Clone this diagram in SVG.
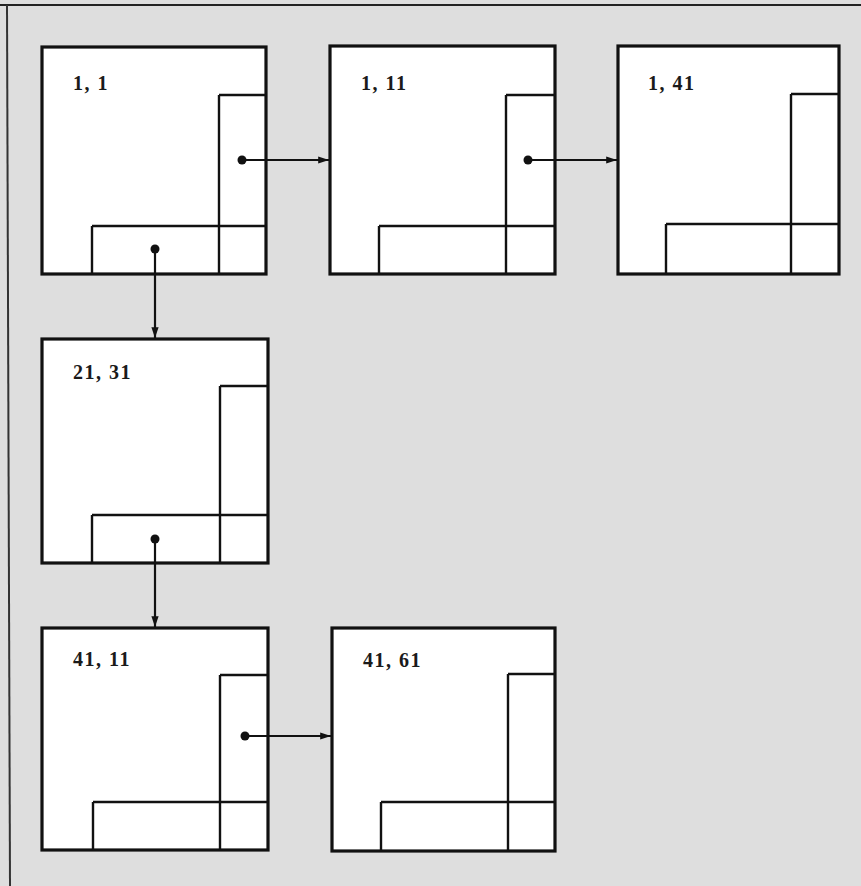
<svg xmlns="http://www.w3.org/2000/svg" width="861" height="886" viewBox="0 0 861 886">
<style>
.frame{fill:#fff;stroke:#111;stroke-width:3.2}
.inner{fill:none;stroke:#111;stroke-width:2.4}
.conn{stroke:#111;stroke-width:2.2;fill:none}
.dot{fill:#111}
.lbl{font-family:"Liberation Serif",serif;font-weight:bold;font-size:20px;fill:#1a1a1a;letter-spacing:1.5px}
</style>
<defs>
<marker id="ah" viewBox="0 0 12 10" refX="12" refY="5" markerWidth="12" markerHeight="9" markerUnits="userSpaceOnUse" orient="auto">
<path d="M0,1 L12,5 L0,9 z" fill="#111"/>
</marker>
</defs>
<rect x="0" y="0" width="861" height="886" fill="#dedede"/>
<line x1="0" y1="5" x2="861" y2="5" stroke="#222" stroke-width="2"/>
<line x1="7" y1="5" x2="10" y2="886" stroke="#333" stroke-width="2"/>

<g id="n1">
<rect class="frame" x="42" y="47" width="224" height="227"/>
<path class="inner" d="M219,95 H266 M219,95 V274 M92,226 H266 M92,226 V274"/>
<text class="lbl" x="73" y="90">1, 1</text>
</g>
<g id="n2">
<rect class="frame" x="330" y="46" width="225" height="228"/>
<path class="inner" d="M506,95 H555 M506,95 V274 M379,226 H555 M379,226 V274"/>
<text class="lbl" x="361" y="90">1, 11</text>
</g>
<g id="n3">
<rect class="frame" x="618" y="46" width="221" height="228"/>
<path class="inner" d="M791,94 H839 M791,94 V274 M666,224 H839 M666,224 V274"/>
<text class="lbl" x="648" y="90">1, 41</text>
</g>
<g id="n4">
<rect class="frame" x="42" y="339" width="226" height="224"/>
<path class="inner" d="M220,386 H268 M220,386 V563 M92,515 H268 M92,515 V563"/>
<text class="lbl" x="73" y="379">21, 31</text>
</g>
<g id="n5">
<rect class="frame" x="42" y="628" width="226" height="222"/>
<path class="inner" d="M220,675 H268 M220,675 V850 M93,802 H268 M93,802 V850"/>
<text class="lbl" x="73" y="666">41, 11</text>
</g>
<g id="n6">
<rect class="frame" x="332" y="628" width="223" height="223"/>
<path class="inner" d="M508,674 H555 M508,674 V851 M381,802 H555 M381,802 V851"/>
<text class="lbl" x="363" y="667">41, 61</text>
</g>

<g id="connectors">
<circle class="dot" cx="242" cy="160" r="4.5"/>
<line class="conn" x1="242" y1="160" x2="329" y2="160" marker-end="url(#ah)"/>
<circle class="dot" cx="528" cy="160" r="4.5"/>
<line class="conn" x1="528" y1="160" x2="617" y2="160" marker-end="url(#ah)"/>
<circle class="dot" cx="155" cy="249" r="4.5"/>
<line class="conn" x1="155" y1="249" x2="155" y2="338" marker-end="url(#ah)"/>
<circle class="dot" cx="155" cy="539" r="4.5"/>
<line class="conn" x1="155" y1="539" x2="155" y2="627" marker-end="url(#ah)"/>
<circle class="dot" cx="245" cy="736" r="4.5"/>
<line class="conn" x1="245" y1="736" x2="331" y2="736" marker-end="url(#ah)"/>
</g>
</svg>
